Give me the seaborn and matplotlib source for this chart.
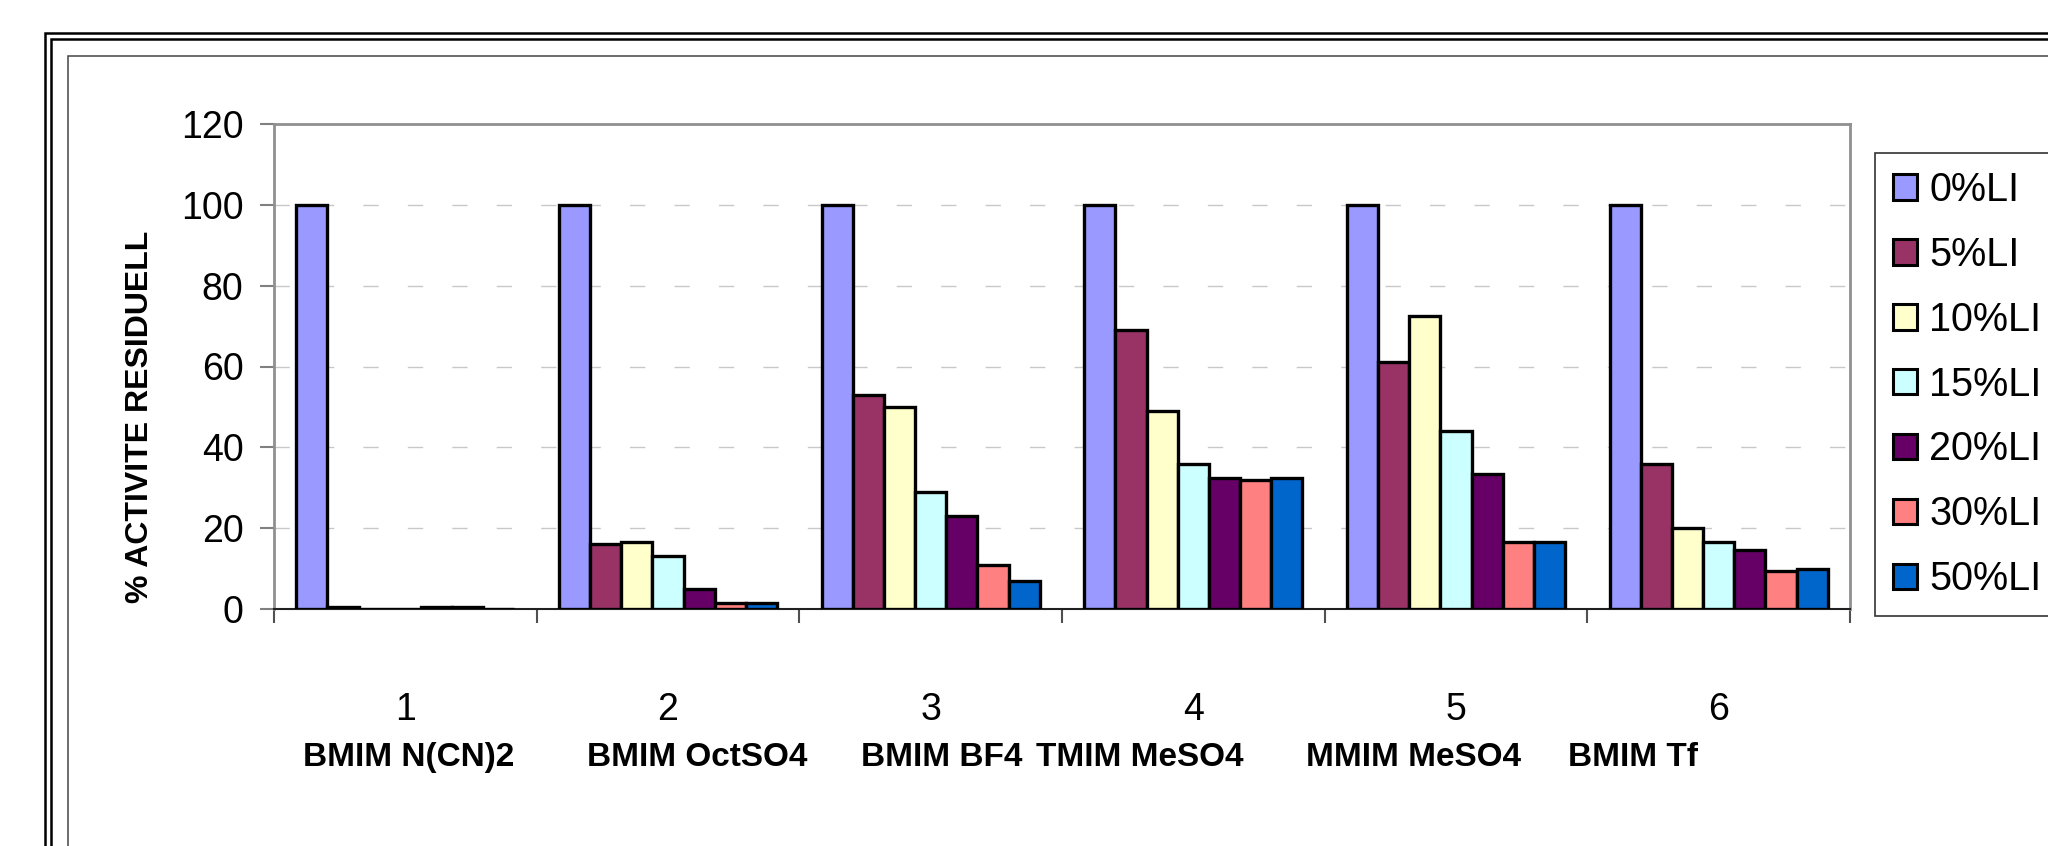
import matplotlib
matplotlib.use("Agg")
import matplotlib.pyplot as plt
from matplotlib.patches import Rectangle
import seaborn as sns
import pandas as pd

# Ionic liquid groups (x positions 1..6) and their names
groups = ["1", "2", "3", "4", "5", "6"]
liquids = ["BMIM N(CN)2", "BMIM OctSO4", "BMIM BF4", "TMIM MeSO4", "MMIM MeSO4", "BMIM Tf"]

# Residual activity (%) for each ionic-liquid concentration
li_levels = ["0%LI", "5%LI", "10%LI", "15%LI", "20%LI", "30%LI", "50%LI"]
li_0 = [100, 100, 100, 100, 100, 100]
li_5 = [0.5, 16, 53, 69, 61, 36]
li_10 = [0, 16.5, 50, 49, 72.5, 20]
li_15 = [0, 13, 29, 36, 44, 16.5]
li_20 = [0.5, 5, 23, 32.5, 33.5, 14.5]
li_30 = [0.5, 1.5, 11, 32, 16.5, 9.5]
li_50 = [0, 1.5, 7, 32.5, 16.5, 10]

colors = ["#9999FF", "#993366", "#FFFFCC", "#CCFFFF", "#660066", "#FF8080", "#0066CC"]

series = [li_0, li_5, li_10, li_15, li_20, li_30, li_50]
rows = []
for lvl, vals in zip(li_levels, series):
    for g, v in zip(groups, vals):
        rows.append({"group": g, "level": lvl, "activity": v})
df = pd.DataFrame(rows)

sns.set_theme(style="white")
plt.rcParams["font.family"] = ["Liberation Sans", "DejaVu Sans"]
plt.rcParams.update({"text.color": "black", "axes.labelcolor": "black",
                     "xtick.color": "black", "ytick.color": "black"})

W, H = 2048, 846
fig = plt.figure(figsize=(W / 100, H / 100), dpi=100)
ax = fig.add_axes([274 / W, 1 - 609 / H, (1850 - 274) / W, (609 - 124) / H])

sns.barplot(data=df, x="group", y="activity", hue="level", order=groups,
            hue_order=li_levels, palette=colors, saturation=1, width=0.83, gap=0,
            edgecolor="black", linewidth=2.4, ax=ax, legend=True, zorder=3)

ax.set_ylim(0, 120)
ax.set_xlim(-0.5, 5.5)
ax.set_yticks([0, 20, 40, 60, 80, 100, 120])
ax.yaxis.grid(True, color="#c8c8c8", linewidth=1.0, linestyle=(0, (11, 21)), zorder=0)
ax.xaxis.grid(False)

# y axis: ticks outward on the left
ax.tick_params(axis="y", which="major", direction="out", length=10, width=1.5,
               color="#808080", labelcolor="black", labelsize=27, pad=12, left=True)
# x axis: category numbers without marks, separators as minor ticks
ax.set_xticks(range(len(groups)))
ax.set_xticklabels(groups)
ax.tick_params(axis="x", which="major", length=0, labelsize=27, labelcolor="black", pad=60)
ax.set_xticks([i - 0.5 for i in range(len(groups) + 1)], minor=True)
ax.tick_params(axis="x", which="minor", direction="out", length=10, width=1.5,
               color="#505050", bottom=True)

for side in ["top", "right", "left"]:
    ax.spines[side].set_color("#909090")
    ax.spines[side].set_linewidth(2)
ax.spines["bottom"].set_color("#202020")
ax.spines["bottom"].set_linewidth(1.5)

ax.set_xlabel("")
ax.set_ylabel("")
fig.text(140 / W, 1 - 417 / H, "% ACTIVITE RESIDUELL", rotation=90, fontsize=23,
         fontweight="bold", ha="center", va="center", color="black")

# Liquid names under the category numbers
name_x = [409, 697, 942, 1140, 1413, 1633]
for name, xp in zip(liquids, name_x):
    fig.text(xp / W, 1 - 757 / H, name, fontsize=24, fontweight="bold",
             ha="center", va="center", color="black")

# Legend to the right of the plot
handles, labels = ax.get_legend_handles_labels()
ax.get_legend().remove()
for h in handles:
    h.set_edgecolor("black")
    h.set_linewidth(2.2)
leg = fig.legend(handles, labels, loc="upper left",
                 bbox_to_anchor=(1875 / W, 1 - 153 / H), bbox_transform=fig.transFigure,
                 fontsize=28.5, frameon=True, fancybox=False, borderpad=0.45,
                 handlelength=0.62, handleheight=0.62, handletextpad=0.3,
                 labelspacing=0.68, borderaxespad=0, labelcolor="black")
leg.get_frame().set_edgecolor("black")
leg.get_frame().set_linewidth(1.2)

# Chart frames: double outer border and thin inner border
def frame(x, y, lw, color):
    fig.patches.append(Rectangle((x / W, -0.2), 1.2, 1 - y / H + 0.2,
                                 transform=fig.transFigure, fill=False,
                                 edgecolor=color, linewidth=lw))

frame(45.3, 33.3, 1.8, "black")
frame(50.5, 38.8, 1.8, "black")
frame(67.6, 56.0, 1.1, "#444444")

fig.savefig("out.png", dpi=100, facecolor="white")
